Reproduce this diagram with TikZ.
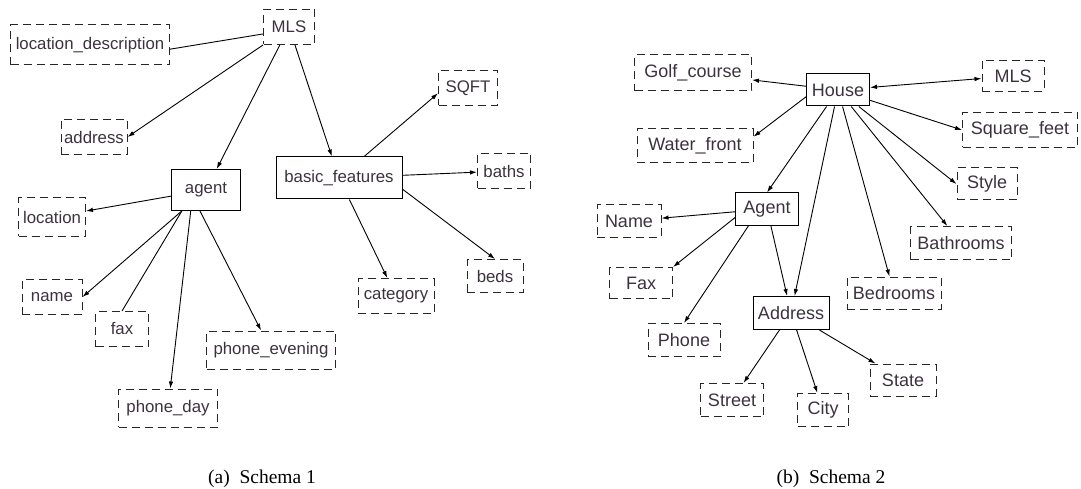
\documentclass[tikz,border=0pt]{standalone}
\usepackage{fontspec}
\setmainfont{Liberation Serif}
\setsansfont{Liberation Sans}
\usetikzlibrary{arrows.meta}
\definecolor{txtgray}{RGB}{60,50,62}

\begin{document}
\begin{tikzpicture}[x=1pt, y=-1pt,
    attr/.style={draw=black!85, line width=1pt, dash pattern=on 8pt off 5pt, inner xsep=2pt, inner ysep=2pt, minimum height=35pt, text=txtgray, font=\sffamily\fontsize{16.8}{20}\selectfont},
    entity/.style={attr, solid, draw=black, line width=1pt},
    attrb/.style={attr, minimum height=33pt, font=\sffamily\fontsize{18}{21}\selectfont},
    entityb/.style={attrb, solid, draw=black, line width=1pt},
    link/.style={line width=0.9pt},
    arrow/.style={link, -{Latex[length=7pt,width=4.5pt]}},
    twoway/.style={link, {Latex[length=7pt,width=4.5pt]}-{Latex[length=7pt,width=4.5pt]}},
    caption/.style={font=\rmfamily\fontsize{19.5}{22}\selectfont}
]
\useasboundingbox (0,0) rectangle (1081,489);
\node[attr, minimum width=51pt] (mls) at (289,27) {MLS};
\node[attr, minimum width=159pt, minimum height=40pt] (locdesc) at (90,45) {location\_description};
\node[attr, minimum width=66pt] (address) at (94,137) {address};
\node[entity, minimum width=69pt, minimum height=41pt] (agent) at (206,190) {agent};
\node[entity, minimum width=126pt, minimum height=42pt] (basic) at (339,178) {basic\_features};
\node[attr, minimum width=67pt, minimum height=38pt] (location) at (52,217) {location};
\node[attr, minimum width=60pt] (name) at (52,297) {name};
\node[attr, minimum width=53pt] (fax) at (122,329) {fax};
\node[attr, minimum width=129pt, minimum height=38pt] (phoneeve) at (271,350) {phone\_evening};
\node[attr, minimum width=99pt, minimum height=38pt] (phoneday) at (168,408) {phone\_day};
\node[attr, minimum width=59pt] (sqft) at (468,88) {SQFT};
\node[attr, minimum width=53pt] (baths) at (504,171) {baths};
\node[attr, minimum width=56pt, minimum height=33pt] (beds) at (495,276) {beds};
\node[attr, minimum width=76pt] (category) at (396,296) {category};
\draw[link] (mls.195) -- (locdesc.-3);
\draw[arrow] (mls.south west) -- (address.east);
\draw[arrow] (mls) -- (agent);
\draw[arrow] (mls) -- (basic);
\draw[arrow] (agent) -- (location);
\draw[arrow] (agent) -- (name.east);
\draw[link] (agent.221) -- (fax.north);
\draw[arrow] (agent.234) -- (phoneday);
\draw[arrow] (agent.254) -- (phoneeve);
\draw[arrow] (basic) -- (sqft.190);
\draw[arrow] (basic) -- (baths);
\draw[arrow] (basic.-10) -- (beds.north);
\draw[arrow] (basic) -- (category);
\node[caption] (capa) at (262,479) {(a)\enspace Schema 1};

\node[entityb, minimum width=63pt, minimum height=32pt] (house) at (838,90) {House};
\node[attrb, minimum width=117pt, minimum height=36pt] (golf) at (693,73) {Golf\_course};
\node[attrb, minimum width=116pt, minimum height=34pt] (water) at (695,146) {Water\_front};
\node[attrb, minimum width=62pt, minimum height=31pt] (mlsb) at (1013,76) {MLS};
\node[attrb, minimum width=115pt, minimum height=35pt] (sqfeet) at (1020,130) {Square\_feet};
\node[attrb, minimum width=60pt, minimum height=32pt] (style) at (987,184) {Style};
\node[attrb, minimum width=101pt] (bathrooms) at (961,243) {Bathrooms};
\node[attrb, minimum width=94pt, minimum height=32pt] (bedrooms) at (894,293) {Bedrooms};
\node[entityb, minimum width=63pt, minimum height=32pt] (agentb) at (767,209) {Agent};
\node[attrb, minimum width=64pt, minimum height=32pt] (nameb) at (629,221) {Name};
\node[attrb, minimum width=63pt, minimum height=31pt] (faxb) at (641,283) {Fax};
\node[attrb, minimum width=72pt] (phone) at (684,340) {Phone};
\node[entityb, minimum width=76pt] (addressb) at (791,313) {Address};
\node[attrb, minimum width=63pt] (street) at (732,400) {Street};
\node[attrb, minimum width=51pt] (city) at (823,410) {City};
\node[attrb, minimum width=66pt, minimum height=32pt] (state) at (903,380) {State};
\draw[arrow] (house) -- (golf);
\draw[arrow] (house.192) -- (water.9);
\draw[twoway] (house) -- (mlsb);
\draw[arrow] (house) -- (sqfeet.west);
\draw[arrow] (house) -- (style.west);
\draw[arrow] (house) -- (bathrooms);
\draw[arrow] (house) -- (bedrooms);
\draw[arrow] (house) -- (addressb);
\draw[arrow] (house) -- (agentb.north);
\draw[arrow] (agentb) -- (nameb);
\draw[arrow] (agentb.195) -- (faxb.north east);
\draw[arrow] (agentb.222) -- (phone.north);
\draw[arrow] (agentb) -- (addressb);
\draw[arrow] (addressb) -- (street);
\draw[arrow] (addressb) -- (city);
\draw[arrow] (addressb) -- (state);
\node[caption] (capb) at (831,479) {(b)\enspace Schema 2};
\end{tikzpicture}
\end{document}
